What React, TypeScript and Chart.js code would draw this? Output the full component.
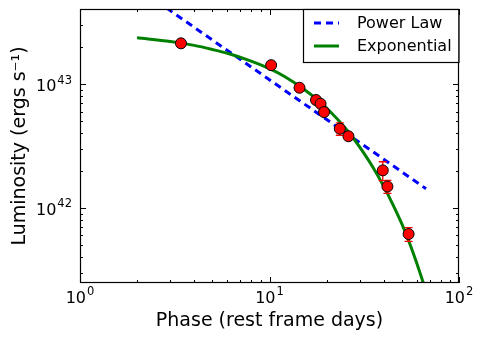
import React, { useEffect, useRef } from 'react';
import { Chart, registerables } from 'chart.js';
Chart.register(...registerables);

// Observed points (phase in rest-frame days, luminosity in erg/s)
const obsPhase = [3.41, 10.2, 14.4, 17.6, 18.6, 19.4, 23.5, 26.1, 39.6, 41.9, 54.2];
const obsLum = [2.13e43, 1.42e43, 9.33e42, 7.43e42, 6.93e42, 5.94e42, 4.36e42, 3.79e42, 2.01e42, 1.49e42, 6.16e41];
const obsErr = [0.05e43, 0.04e43, 0.2e42, 0.2e42, 0.2e42, 0.2e42, 0.5e42, 0.15e42, 0.35e42, 0.18e42, 0.78e41];

// Power-law fit line
const powerPhase = [2, 67];
const powerLum = [6.0e43, 1.43e42];

// Exponential fit curve
const expPhase = [2, 3, 4, 5, 6, 8, 10, 12, 15, 18, 21, 24, 27, 30, 35, 40, 45, 50, 55, 60, 65, 70];
const expLum = [2.36e43, 2.2e43, 2.05e43, 1.9e43, 1.77e43, 1.53e43, 1.33e43, 1.15e43, 9.2e42, 7.4e42, 5.95e42, 4.78e42, 3.84e42, 3.08e42, 2.15e42, 1.5e42, 1.05e42, 7.4e41, 5.15e41, 3.55e41, 2.45e41, 1.7e41];

// Tick labels: base and exponent
const xTickValues = [1, 10, 100];
const xTickExponents = ['0', '1', '2'];
const yTickValues = [1e42, 1e43];
const yTickExponents = ['42', '43'];

const X_MIN = 1, X_MAX = 100;
const Y_MIN = 2.48e41, Y_MAX = 4.03e43;

const FONT = 'DejaVu Sans';

const errorBarPlugin = {
  id: 'errorBars',
  beforeDatasetDraw(chart: any, args: any) {
    if (args.index !== 0) return;
    const { ctx, chartArea, scales } = chart;
    const x = scales.x, y = scales.y;
    ctx.save();
    ctx.beginPath();
    ctx.rect(chartArea.left, chartArea.top, chartArea.right - chartArea.left, chartArea.bottom - chartArea.top);
    ctx.clip();
    ctx.strokeStyle = '#ff0000';
    ctx.lineWidth = 1.3;
    obsPhase.forEach((p, i) => {
      const px = x.getPixelForValue(p);
      const pTop = y.getPixelForValue(obsLum[i] + obsErr[i]);
      const pBot = y.getPixelForValue(obsLum[i] - obsErr[i]);
      ctx.beginPath();
      ctx.moveTo(px, pTop); ctx.lineTo(px, pBot);
      ctx.moveTo(px - 4, pTop); ctx.lineTo(px + 4, pTop);
      ctx.moveTo(px - 4, pBot); ctx.lineTo(px + 4, pBot);
      ctx.stroke();
    });
    ctx.restore();
  },
};

function drawPowerLabel(ctx: any, base: string, exp: string, anchorX: number, baseline: number, align: 'center' | 'right') {
  ctx.font = `16px "${FONT}"`;
  const wb = ctx.measureText(base).width;
  ctx.font = `11.5px "${FONT}"`;
  const we = ctx.measureText(exp).width;
  const total = wb + 1 + we;
  const x0 = align === 'center' ? anchorX - total / 2 : anchorX - total;
  ctx.textAlign = 'left';
  ctx.textBaseline = 'alphabetic';
  ctx.fillStyle = '#000';
  ctx.font = `16px "${FONT}"`;
  ctx.fillText(base, x0, baseline);
  ctx.font = `11.5px "${FONT}"`;
  ctx.fillText(exp, x0 + wb + 1, baseline - 7.5);
}

const frameTicksPlugin = {
  id: 'frameTicks',
  afterDraw(chart: any) {
    const { ctx, chartArea, scales } = chart;
    const { left, right, top, bottom } = chartArea;
    const x = scales.x, y = scales.y;
    ctx.save();
    ctx.strokeStyle = '#000';
    ctx.lineWidth = 1;
    ctx.beginPath();
    for (let k = 0; k <= 2; k++) {
      for (let m = 1; m <= 9; m++) {
        const v = m * Math.pow(10, k);
        if (v < X_MIN || v > X_MAX) continue;
        const px = Math.round(x.getPixelForValue(v)) + 0.5;
        const len = m === 1 ? 6 : 3;
        ctx.moveTo(px, bottom); ctx.lineTo(px, bottom - len);
        ctx.moveTo(px, top); ctx.lineTo(px, top + len);
      }
    }
    for (let k = 41; k <= 43; k++) {
      for (let m = 1; m <= 9; m++) {
        const v = m * Math.pow(10, k);
        if (v < Y_MIN || v > Y_MAX) continue;
        const py = Math.round(y.getPixelForValue(v)) + 0.5;
        const len = m === 1 ? 6 : 3;
        ctx.moveTo(left, py); ctx.lineTo(left + len, py);
        ctx.moveTo(right, py); ctx.lineTo(right - len, py);
      }
    }
    ctx.stroke();
    ctx.lineWidth = 1.2;
    ctx.strokeRect(Math.round(left) + 0.5, Math.round(top) + 0.5, Math.round(right - left) - 1, Math.round(bottom - top) - 1);

    // tick labels
    xTickValues.forEach((v, i) => {
      drawPowerLabel(ctx, '10', xTickExponents[i], x.getPixelForValue(v), bottom + 19.5, 'center');
    });
    yTickValues.forEach((v, i) => {
      drawPowerLabel(ctx, '10', yTickExponents[i], left - 8, y.getPixelForValue(v) + 7, 'right');
    });

    // legend
    const lx0 = 303, ly0 = Math.round(top) + 0.5, lx1 = Math.round(right) - 0.5, ly1 = 62.5;
    ctx.fillStyle = '#fff';
    ctx.fillRect(lx0, ly0, lx1 - lx0, ly1 - ly0);
    ctx.strokeStyle = '#000';
    ctx.lineWidth = 1.2;
    ctx.strokeRect(lx0 + 0.5, ly0, lx1 - lx0, ly1 - ly0);
    const entries = [
      { label: 'Power Law', color: '#0000ff', dash: [7, 5], y: 23 },
      { label: 'Exponential', color: '#008000', dash: [], y: 46 },
    ];
    entries.forEach((e) => {
      ctx.beginPath();
      ctx.strokeStyle = e.color;
      ctx.lineWidth = 3;
      ctx.setLineDash(e.dash);
      ctx.moveTo(314, e.y);
      ctx.lineTo(339, e.y);
      ctx.stroke();
      ctx.setLineDash([]);
      ctx.fillStyle = '#000';
      ctx.font = `16px "${FONT}"`;
      ctx.textBaseline = 'middle';
      ctx.textAlign = 'left';
      ctx.fillText(e.label, 357, e.y + 1);
    });
    ctx.restore();
  },
};

export default function App() {
  const canvasRef = useRef<HTMLCanvasElement | null>(null);

  useEffect(() => {
    if (!canvasRef.current) return;
    const chart = new Chart(canvasRef.current, {
      type: 'line',
      data: {
        datasets: [
          {
            label: 'Data',
            data: obsPhase.map((p, i) => ({ x: p, y: obsLum[i] })),
            showLine: false,
            pointRadius: 5.5,
            pointBackgroundColor: '#ff0000',
            pointBorderColor: '#000000',
            pointBorderWidth: 1,
            borderColor: '#000000',
          },
          {
            label: 'Exponential',
            data: expPhase.map((p, i) => ({ x: p, y: expLum[i] })),
            borderColor: '#008000',
            borderWidth: 3,
            pointRadius: 0,
            cubicInterpolationMode: 'monotone',
            fill: false,
          },
          {
            label: 'Power Law',
            data: powerPhase.map((p, i) => ({ x: p, y: powerLum[i] })),
            borderColor: '#0000ff',
            borderWidth: 3,
            borderDash: [7, 5],
            pointRadius: 0,
            fill: false,
          },
        ],
      },
      options: {
        responsive: false,
        animation: false,
        devicePixelRatio: 1,
        layout: { padding: { left: 0, right: 25, top: 9, bottom: 0 } },
        plugins: { legend: { display: false }, tooltip: { enabled: false } },
        scales: {
          x: {
            type: 'logarithmic',
            min: X_MIN,
            max: X_MAX,
            grid: { display: false, drawTicks: false },
            border: { display: false },
            afterBuildTicks: (scale: any) => {
              scale.ticks = xTickValues.map((v) => ({ value: v }));
            },
            afterFit: (scale: any) => {
              scale.height = 58;
              scale.paddingLeft = 0;
              scale.paddingRight = 0;
            },
            ticks: { display: false },
            title: {
              display: true,
              text: 'Phase (rest frame days)',
              color: '#000',
              font: { family: FONT, size: 19 },
              padding: { top: 0, bottom: 9 },
            },
          },
          y: {
            type: 'logarithmic',
            min: Y_MIN,
            max: Y_MAX,
            grid: { display: false, drawTicks: false },
            border: { display: false },
            afterBuildTicks: (scale: any) => {
              scale.ticks = yTickValues.map((v) => ({ value: v }));
            },
            afterFit: (scale: any) => {
              scale.width = 80;
              scale.paddingTop = 0;
              scale.paddingBottom = 0;
            },
            ticks: { display: false },
            title: {
              display: true,
              text: 'Luminosity (ergs s\u207B\u00B9)',
              color: '#000',
              font: { family: FONT, size: 19 },
              padding: { top: 9, bottom: 0 },
            },
          },
        },
      },
      plugins: [errorBarPlugin, frameTicksPlugin],
    } as any);
    return () => chart.destroy();
  }, []);

  return (
    <div style={{ position: 'absolute', left: 0, top: 0, width: 484, height: 341, background: '#fff' }}>
      <canvas ref={canvasRef} width={484} height={341} style={{ width: 484, height: 341 }} />
    </div>
  );
}
